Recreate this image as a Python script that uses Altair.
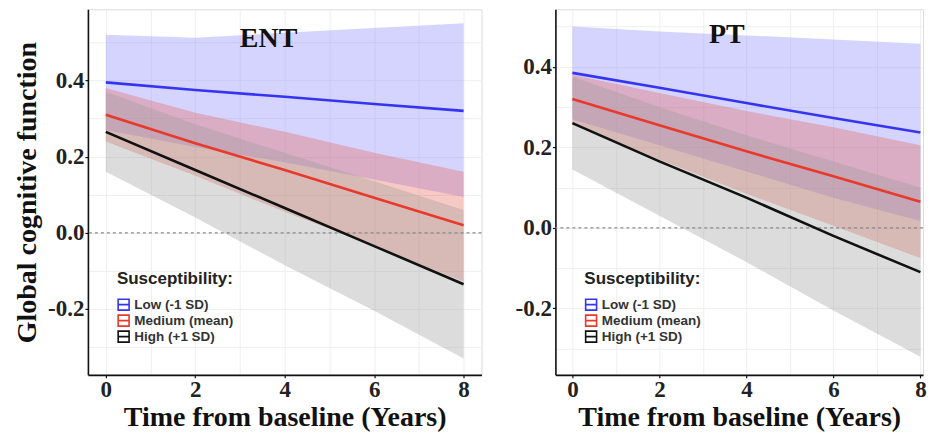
import altair as alt
import pandas as pd

# ---- data ----
years = [0, 2, 4, 6, 8]
levels = ["Low (-1 SD)", "Medium (mean)", "High (+1 SD)"]

# ENT panel
ent_low_fit = [0.395, 0.375, 0.357, 0.338, 0.320]
ent_low_lo = [0.270, 0.225, 0.185, 0.140, 0.094]
ent_low_hi = [0.520, 0.512, 0.525, 0.538, 0.550]
ent_med_fit = [0.310, 0.235, 0.165, 0.092, 0.020]
ent_med_lo = [0.240, 0.150, 0.055, -0.035, -0.128]
ent_med_hi = [0.380, 0.315, 0.265, 0.210, 0.160]
ent_high_fit = [0.265, 0.165, 0.065, -0.035, -0.135]
ent_high_lo = [0.160, 0.040, -0.085, -0.205, -0.330]
ent_high_hi = [0.370, 0.285, 0.210, 0.135, 0.060]

# PT panel
pt_low_fit = [0.385, 0.348, 0.310, 0.273, 0.237]
pt_low_lo = [0.270, 0.205, 0.140, 0.075, 0.017]
pt_low_hi = [0.500, 0.488, 0.478, 0.468, 0.457]
pt_med_fit = [0.320, 0.255, 0.190, 0.128, 0.065]
pt_med_lo = [0.260, 0.170, 0.085, 0.005, -0.075]
pt_med_hi = [0.380, 0.335, 0.290, 0.250, 0.205]
pt_high_fit = [0.260, 0.165, 0.075, -0.020, -0.110]
pt_high_lo = [0.145, 0.030, -0.085, -0.205, -0.320]
pt_high_hi = [0.375, 0.300, 0.230, 0.165, 0.100]

# panel titles and where they sit (data units)
panel_names = ["ENT", "PT"]
title_x = [3.64, 3.55]
title_y = [0.51, 0.479]

line_colors = ["#3434f2", "#e8392b", "#111111"]
band_colors = ["#8585ff", "#e8645a", "#9b9b9b"]

SERIF = "Liberation Serif"
SANS = "Liberation Sans"


def build_df(fits, los, his):
    rows = []
    for lev, f, lo, hi in zip(levels, fits, los, his):
        for yr, a, b, c in zip(years, f, lo, hi):
            rows.append({"year": yr, "level": lev, "band": lev, "fit": a, "lo": b, "hi": c})
    return pd.DataFrame(rows)


ent_df = build_df([ent_low_fit, ent_med_fit, ent_high_fit],
                  [ent_low_lo, ent_med_lo, ent_high_lo],
                  [ent_low_hi, ent_med_hi, ent_high_hi])
pt_df = build_df([pt_low_fit, pt_med_fit, pt_high_fit],
                 [pt_low_lo, pt_med_lo, pt_high_lo],
                 [pt_low_hi, pt_med_hi, pt_high_hi])

odd_y = "round(datum.value*10) % 2 != 0"
label_y = ("(" + odd_y + ") ? '' : "
           "(datum.value < 0 ? '-' + format(-datum.value, '.1f') : format(datum.value, '.1f'))")
label_x = "datum.value % 2 == 0 ? format(datum.value, 'd') : ''"


def panel(df, idx, xdom, ydom, width, ytitle):
    xaxis = alt.Axis(
        values=list(range(0, 9)), labelExpr=label_x, title="Time from baseline (Years)",
        tickOpacity={"condition": {"test": "datum.value % 2 != 0", "value": 0}, "value": 1},
    )
    yaxis = alt.Axis(
        values=[-0.3, -0.2, -0.1, 0.0, 0.1, 0.2, 0.3, 0.4, 0.5], labelExpr=label_y,
        title=ytitle if ytitle else None,
        tickOpacity={"condition": {"test": odd_y, "value": 0}, "value": 1},
    )
    x = alt.X("year:Q", scale=alt.Scale(domain=xdom, nice=False, zero=False), axis=xaxis)
    base = alt.Chart(df)
    # fill domain is data-derived (sorted) so it is not merged with the colour legend
    band = base.mark_area(opacity=0.35).encode(
        x=x,
        y=alt.Y("lo:Q", scale=alt.Scale(domain=ydom, nice=False, zero=False), axis=yaxis),
        y2="hi:Q",
        fill=alt.Fill("band:N", sort=levels, scale=alt.Scale(range=band_colors), legend=None),
        detail="band:N",
    )
    zero = alt.Chart(pd.DataFrame({"z": [0.0]})).mark_rule(
        color="#8a8a8a", strokeDash=[3, 3], strokeWidth=1.3
    ).encode(y="z:Q")
    line = base.mark_line(strokeWidth=2.6).encode(
        x=x,
        y="fit:Q",
        color=alt.Color(
            "level:N",
            scale=alt.Scale(domain=levels, range=line_colors),
            legend=alt.Legend(
                title="Susceptibility:", orient="bottom-left", offset=29,
                symbolType="M-1,-1H1V1H-1Z M-1,0H1", symbolSize=120, symbolStrokeWidth=1.6,
                titleFont=SANS, titleFontSize=17, titleFontWeight="bold", titleColor="#222",
                labelFont=SANS, labelFontSize=13.5, labelFontWeight="bold", labelColor="#333",
                titlePadding=10, rowPadding=-4,
            ),
        ),
    )
    ttl = alt.Chart(pd.DataFrame({"name": [panel_names[idx]], "tx": [title_x[idx]],
                                  "ty": [title_y[idx]]})).mark_text(
        font=SERIF, fontSize=28, fontWeight="bold", color="#111", baseline="middle", align="center"
    ).encode(x="tx:Q", y="ty:Q", text="name:N")
    return alt.layer(band, zero, line, ttl).properties(width=width, height=366)


left = panel(ent_df, 0, [-0.40, 8.40], [-0.373, 0.587], 394, "Global cognitive function")
right = panel(pt_df, 1, [-0.39, 8.06], [-0.365, 0.543], 368, None)

chart = alt.hconcat(left, right, spacing=31).resolve_scale(
    y="independent", x="independent", color="independent", fill="independent"
).resolve_legend(color="independent").properties(
    padding={"left": 5, "top": 0, "right": 0, "bottom": 0}
).configure_view(stroke="#dddddd").configure_axis(
    domainColor="#111", domainWidth=1.6, tickColor="#111", tickSize=3, tickWidth=1.2,
    labelFont=SERIF, labelFontSize=23, labelFontWeight="bold", labelColor="#222", labelPadding=1,
    titleFont=SERIF, titleFontSize=28, titleFontWeight="bold", titleColor="#111",
    gridColor="#efefef", gridWidth=1,
).configure_axisX(titlePadding=2).configure_axisY(titlePadding=6)

chart.save("out.html", embed_options={"renderer": "svg", "actions": False})
